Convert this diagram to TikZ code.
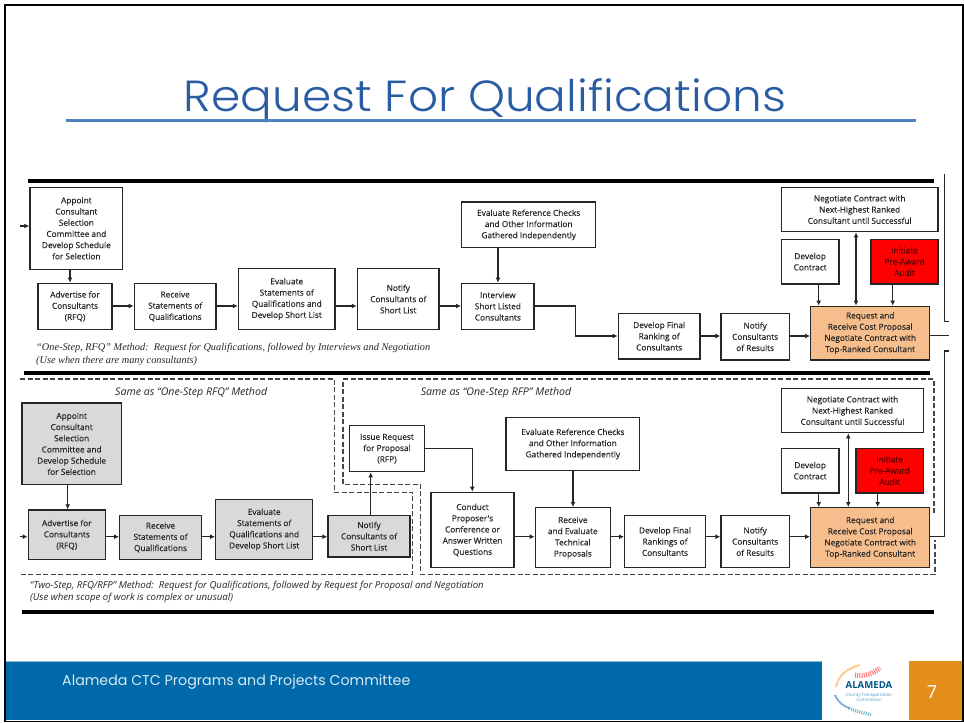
\documentclass[tikz,border=0pt]{standalone}
\usepackage{fontspec}
\setmainfont{Open Sans}
\newfontfamily\boxfont{Open Sans}[FakeBold=0.25]
\newfontfamily\titlefont{Poppins Light}[FakeStretch=1.08]
\newfontfamily\footfont{Poppins}
\newfontfamily\serifnote{Liberation Serif}
\usetikzlibrary{arrows.meta}
\definecolor{ink}{HTML}{262626}
\definecolor{titleblue}{HTML}{2A5CA3}
\definecolor{rulebl}{HTML}{4F81BD}
\definecolor{bandblue}{HTML}{0069AA}
\definecolor{orangeband}{HTML}{E48E1C}
\definecolor{peach}{HTML}{F6BE8C}
\definecolor{grayfill}{HTML}{D9D9D9}
\definecolor{redtext}{HTML}{5A0000}
\tikzset{
 flowbox/.style={draw=ink,line width=1.4pt,inner sep=0pt,align=center,text=ink,
   font=\boxfont\fontsize{8.3}{11.2}\selectfont},
 grayb/.style={fill=grayfill},
 peachb/.style={fill=peach},
 redb/.style={fill=red,text=redtext},
 plainb/.style={fill=white},
 arr/.style={draw=ink,line width=1.3pt,-{Latex[length=5pt,width=5pt]}},
 dbl/.style={draw=ink,line width=1.3pt,{Latex[length=5pt,width=5pt]}-{Latex[length=5pt,width=5pt]}},
 plainline/.style={draw=ink,line width=1.3pt},
 heavy/.style={draw=black,line width=4pt},
 dash box/.style={draw=ink!85,line width=1.2pt,dash pattern=on 5pt off 2.5pt},
 notetext/.style={anchor=west,inner sep=0pt,text=ink},
}
\newcommand{\bx}[7]{\node[flowbox,#2,minimum width={(#5-#3)*1pt},minimum height={(#6-#4)*1pt}] (#1) at ({(#3+#5)/2},{(#4+#6)/2}) {#7};}
\begin{document}
\begin{tikzpicture}[x=1pt,y=-1pt]
\useasboundingbox (0,0) rectangle (964,723);
\fill[white] (0,0) rectangle (964,723);
% footer
\fill[bandblue] (6,661) rectangle (822,720);
\draw[line width=1pt,color=rulebl!60] (6,661) -- (822,661);
\fill[orangeband] (909,661) rectangle (962,720);
\node[anchor=west,inner sep=0pt,text=white!85!bandblue,font=\footfont\fontsize{14.2}{16}\selectfont] (foot) at (62,682) {Alameda CTC Programs and Projects Committee};
\node[text=white,font=\fontsize{18}{18}\selectfont,inner sep=0pt] (pageno) at (932,692) {7};
% logo
\draw[line width=5pt,color=red!55!white,dash pattern=on 1pt off 1.2pt] (855,675) .. controls (864,677) and (874,673) .. (880,668);
\draw[line width=2pt,color=orange!55!white,dash pattern=on 1.5pt off .8pt] (836,687) .. controls (838,675) and (848,668) .. (860,665);
\draw[line width=1.8pt,color=cyan!50!blue!60!white,dash pattern=on 2pt off .6pt] (835,695) .. controls (838,702) and (843,706) .. (849,708);
\draw[line width=3.5pt,color=teal!55!white,dash pattern=on 1pt off 1.2pt] (849,708) .. controls (857,712) and (865,713) .. (872,715);
\node[inner sep=0pt,text=bandblue!80!black,font=\bfseries\fontsize{9.6}{10}\selectfont] (logoname) at (869,685.5) {ALAMEDA};
\node[inner sep=0pt,text=bandblue!70!white,align=center,font=\fontsize{4.4}{5}\selectfont] (logosub) at (869,697.5) {County Transportation\\Commission};
% frame
\draw[black,line width=2pt] (5,5) -- (963,5);
\draw[black,line width=2.4pt] (5,4) -- (5,722);
\draw[black,line width=2pt] (962.6,4) -- (962.6,722);
\draw[black,line width=1.5pt] (4,721.5) -- (963,721.5);
% title
\node[inner sep=0pt,anchor=base,text=titleblue,font=\titlefont\fontsize{43.5}{48}\selectfont] (title) at (485,111) {Request For Qualifications};
\draw[rulebl,line width=3pt] (66,120.5) -- (916,120.5);
% heavy rules
\draw[heavy] (28,180.7) -- (934,180.7);
\draw[heavy] (24,373.3) -- (930,373.3);
\draw[heavy] (22,612) -- (934,612);
% dashed regions
\draw[dash box] (20,379) -- (334.3,379) -- (334.3,492.3) -- (412.7,492.3) -- (412.7,574.3) -- (20,574.3);
\draw[dash box] (934,513) -- (934,379) -- (343,379) -- (343,484.3) -- (420.7,484.3) -- (420.7,574.3) -- (935,574.3) -- (935,540);
% top row
\bx{appoint}{plainb}{30}{187.3}{122.7}{269.3}{Appoint\\Consultant\\Selection\\Committee and\\Develop Schedule\\for Selection}
\bx{advert}{plainb}{38}{283.3}{112}{329.3}{Advertise for\\Consultants\\(RFQ)}
\bx{receive}{plainb}{134.3}{283.3}{216}{329.3}{Receive\\Statements of\\Qualifications}
\bx{evalq}{plainb}{238.5}{268.7}{335}{329.3}{Evaluate\\Statements of\\Qualifications and\\Develop Short List}
\bx{notify}{plainb}{357.5}{268.7}{439}{329.3}{Notify\\Consultants of\\Short List}
\bx{interview}{plainb}{461.7}{283.3}{534}{329.3}{Interview\\Short Listed\\Consultants}
\bx{evalref}{plainb}{461.7}{202}{595.7}{247.7}{Evaluate Reference Checks\\and Other Information\\Gathered Independently}
\bx{devfinal}{plainb}{618.3}{313.3}{700}{359}{Develop Final\\Ranking of\\Consultants}
\bx{notifyres}{plainb}{721}{313.3}{789.3}{360}{Notify\\Consultants\\of Results}
\bx{request}{peachb}{810.7}{306.3}{929.7}{360}{Request and\\Receive Cost Proposal\\Negotiate Contract with\\Top-Ranked Consultant}
\bx{negnext}{plainb}{781.3}{187.3}{938}{231.7}{Negotiate Contract with\\Next-Highest Ranked\\Consultant until Successful}
\bx{devcon}{plainb}{781.3}{239.3}{839}{284}{Develop\\Contract}
\bx{audit}{redb}{871}{239.3}{938}{284}{Initiate\\Pre-Award\\Audit}
% bottom row
\bx{appointb}{grayb}{22}{403}{121.3}{484.7}{Appoint\\Consultant\\Selection\\Committee and\\Develop Schedule\\for Selection}
\bx{advertb}{grayb}{28.3}{510}{105.3}{559.7}{Advertise for\\Consultants\\(RFQ)}
\bx{receiveb}{grayb}{119.7}{515.3}{201.3}{559.7}{Receive\\Statements of\\Qualifications}
\bx{evalqb}{grayb}{215.7}{499.3}{312.7}{559.7}{Evaluate\\Statements of\\Qualifications and\\Develop Short List}
\bx{notifyb}{grayb}{328}{515.3}{410}{557}{Notify\\Consultants of\\Short List}
\bx{issue}{plainb}{349.3}{425.7}{424.7}{471.7}{Issue Request\\for Proposal\\(RFP)}
\bx{conduct}{plainb}{431}{492.3}{514}{567.7}{Conduct\\Proposer's\\Conference or\\Answer Written\\Questions}
\bx{evalrefb}{plainb}{506}{417.7}{639.7}{470.3}{Evaluate Reference Checks\\and Other Information\\Gathered Independently}
\bx{recvtech}{plainb}{535.3}{507.7}{610.3}{567.7}{Receive\\and Evaluate\\Technical\\Proposals}
\bx{devfinalb}{plainb}{624.7}{515.3}{705.3}{567.7}{Develop Final\\Rankings of\\Consultants}
\bx{notifyresb}{plainb}{721}{515.3}{789.3}{567.7}{Notify\\Consultants\\of Results}
\bx{requestb}{peachb}{810.7}{507.7}{929.7}{567.7}{Request and\\Receive Cost Proposal\\Negotiate Contract with\\Top-Ranked Consultant}
\bx{negnextb}{plainb}{781.3}{388.3}{923.7}{432.7}{Negotiate Contract with\\Next-Highest Ranked\\Consultant until Successful}
\bx{devconb}{plainb}{781.3}{448.3}{839}{493}{Develop\\Contract}
\bx{auditb}{redb}{856}{448.3}{923.3}{493}{Initiate\\Pre-Award\\Audit}
% helper coordinates
\coordinate (entrya) at (20,226);
\coordinate (entryb) at (20,536.7);
\coordinate (ya) at (0,306);
\coordinate (yb) at (0,336);
\coordinate (yc) at (0,536.7);
\coordinate (xa) at (70,0);
\coordinate (xe) at (498,0);
\coordinate (xj) at (575.7,0);
\coordinate (xc) at (818.7,0);
\coordinate (xn) at (856,0);
\coordinate (xd) at (892.7,0);
\coordinate (xf) at (67.7,0);
\coordinate (xg) at (370.7,0);
\coordinate (xh) at (472.3,0);
\coordinate (xi) at (573,0);
\coordinate (xm) at (848.3,0);
\coordinate (xk) at (877.7,0);
\coordinate (yi) at (0,448.3);
\coordinate (oa) at (949,335.7);
\coordinate (ob) at (949,321.3);
\coordinate (oc) at (944.3,174);
\coordinate (od) at (949,351);
\coordinate (oe) at (944.3,536.7);
% connectors top
\draw[arr] (entrya) -- (entrya -| appoint.west);
\draw[arr] (appoint.south -| xa) -- (advert.north -| xa);
\draw[arr] (advert.east |- ya) -- (receive.west |- ya);
\draw[arr] (receive.east |- ya) -- (evalq.west |- ya);
\draw[arr] (evalq.east |- ya) -- (notify.west |- ya);
\draw[arr] (notify.east |- ya) -- (interview.west |- ya);
\draw[arr] (evalref.south -| xe) -- (interview.north -| xe);
\draw[arr] (interview.east |- ya) -- (ya -| xj) -- (yb -| xj) -- (devfinal.west |- yb);
\draw[arr] (devfinal.east |- yb) -- (notifyres.west |- yb);
\draw[arr] (notifyres.east |- yb) -- (request.west |- yb);
\draw[arr] (devcon.south -| xc) -- (request.north -| xc);
\draw[dbl] (request.north -| xn) -- (negnext.south -| xn);
\draw[arr] (audit.south -| xd) -- (request.north -| xd);
\draw[plainline] (request.east |- oa) -- (oa);
\draw[plainline] (ob) -- (ob -| oc) -- (oc);
\draw[plainline] (od) -- (od -| oe) -- (oe) -- (requestb.east |- oe);
% connectors bottom
\draw[arr] (entryb) -- (entryb -| advertb.west);
\draw[arr] (appointb.south -| xf) -- (advertb.north -| xf);
\draw[arr] (advertb.east |- yc) -- (receiveb.west |- yc);
\draw[arr] (receiveb.east |- yc) -- (evalqb.west |- yc);
\draw[arr] (evalqb.east |- yc) -- (notifyb.west |- yc);
\draw[arr] (notifyb.north -| xg) -- (issue.south -| xg);
\draw[arr] (issue.east |- yi) -- (yi -| xh) -- (conduct.north -| xh);
\draw[arr] (conduct.east |- yc) -- (recvtech.west |- yc);
\draw[arr] (evalrefb.south -| xi) -- (recvtech.north -| xi);
\draw[arr] (recvtech.east |- yc) -- (devfinalb.west |- yc);
\draw[arr] (devfinalb.east |- yc) -- (notifyresb.west |- yc);
\draw[arr] (notifyresb.east |- yc) -- (requestb.west |- yc);
\draw[arr] (devconb.south -| xc) -- (requestb.north -| xc);
\draw[dbl] (requestb.north -| xm) -- (negnextb.south -| xm);
\draw[arr] (auditb.south -| xk) -- (requestb.north -| xk);
% notes
\node[notetext,align=left,font=\serifnote\itshape\fontsize{10.3}{12.4}\selectfont] (noteone) at (36,354.5) {“One-Step, RFQ” Method:\ \ Request for Qualifications, followed by Interviews and Negotiation\\(Use when there are many consultants)};
\node[notetext,align=left,font=\itshape\fontsize{9.63}{12}\selectfont] (notetwo) at (30,591.7) {“Two-Step, RFQ/RFP” Method:\ \ Request for Qualifications, followed by Request for Proposal and Negotiation\\(Use when scope of work is complex or unusual)};
\node[notetext,font=\itshape\fontsize{10.6}{12}\selectfont] (samea) at (115,392.5) {Same as “One-Step RFQ” Method};
\node[notetext,font=\itshape\fontsize{10.6}{12}\selectfont] (sameb) at (420.7,392.5) {Same as “One-Step RFP” Method};
\end{tikzpicture}
\end{document}
